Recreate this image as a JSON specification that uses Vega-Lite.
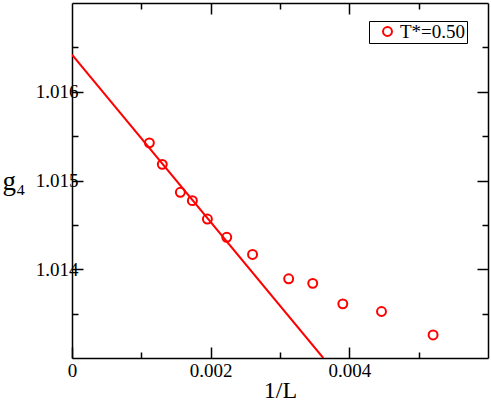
{
  "$schema": "https://vega.github.io/schema/vega-lite/v6.json",
  "width": 416,
  "height": 355,
  "autosize": {"type": "none"},
  "padding": {"left": 72, "top": 3, "right": 3, "bottom": 44},
  "config": {
    "view": {"stroke": null},
    "font": "Liberation Serif",
    "axis": {
      "domainColor": "black",
      "domainWidth": 1.5,
      "tickColor": "black",
      "tickWidth": 1.5,
      "grid": false,
      "labelFlush": false,
      "labelFont": "Liberation Serif",
      "labelColor": "black",
      "titleFont": "Liberation Serif",
      "titleFontWeight": "normal",
      "titleColor": "black"
    }
  },
  "datasets": {
    "points": [
      {"invL": 0.001116, "g4": 1.015424, "series": "T*=0.50"},
      {"invL": 0.001302, "g4": 1.015182, "series": "T*=0.50"},
      {"invL": 0.0015625, "g4": 1.014867, "series": "T*=0.50"},
      {"invL": 0.001736, "g4": 1.014773, "series": "T*=0.50"},
      {"invL": 0.001953, "g4": 1.014566, "series": "T*=0.50"},
      {"invL": 0.002232, "g4": 1.014360, "series": "T*=0.50"},
      {"invL": 0.002604, "g4": 1.014167, "series": "T*=0.50"},
      {"invL": 0.003125, "g4": 1.013892, "series": "T*=0.50"},
      {"invL": 0.003472, "g4": 1.013841, "series": "T*=0.50"},
      {"invL": 0.003906, "g4": 1.013610, "series": "T*=0.50"},
      {"invL": 0.004464, "g4": 1.013524, "series": "T*=0.50"},
      {"invL": 0.005208, "g4": 1.013260, "series": "T*=0.50"}
    ],
    "fit": [
      {"invL": 0.0, "g4": 1.016417},
      {"invL": 0.003624, "g4": 1.013}
    ]
  },
  "layer": [
    {
      "data": {"name": "fit"},
      "mark": {"type": "line", "color": "#ff0000", "strokeWidth": 2, "clip": true},
      "encoding": {
        "x": {
          "field": "invL", "type": "quantitative",
          "scale": {"domain": [0, 0.006], "nice": false, "zero": false},
          "axis": {
            "orient": "bottom",
            "title": "1/L",
            "titlePadding": -2,
            "titleFontSize": 24,
            "labelFontSize": 19,
            "values": [0, 0.001, 0.002, 0.003, 0.004, 0.005],
            "tickSize": {"condition": {"test": "abs(datum.value*500 - round(datum.value*500)) < 0.01", "value": -11}, "value": -6},
            "labelPadding": 14,
            "labelExpr": "abs(datum.value*500 - round(datum.value*500)) < 0.01 ? format(datum.value, '.3~f') : ''"
          }
        },
        "y": {
          "field": "g4", "type": "quantitative",
          "scale": {"domain": [1.013, 1.017], "nice": false, "zero": false},
          "axis": {
            "orient": "left",
            "title": "g₄",
            "titleFontSize": 27,
            "labelFontSize": 19,
            "titleAngle": 0,
            "titleAlign": "left",
            "titleBaseline": "middle",
            "titleX": -70,
            "titleY": 178,
            "values": [1.0135, 1.014, 1.0145, 1.015, 1.0155, 1.016, 1.0165],
            "tickSize": {"condition": {"test": "abs(datum.value*1000 - round(datum.value*1000)) < 0.01", "value": -11}, "value": -6},
            "labelPadding": 5,
            "labelExpr": "abs(datum.value*1000 - round(datum.value*1000)) < 0.01 ? format(datum.value, '.3f') : ''"
          }
        }
      }
    },
    {
      "data": {"name": "points"},
      "mark": {"type": "point", "shape": "circle", "filled": false, "size": 80, "strokeWidth": 2, "opacity": 1},
      "encoding": {
        "x": {
          "field": "invL", "type": "quantitative",
          "axis": {
            "orient": "top",
            "title": null,
            "labels": false,
            "values": [0.001, 0.002, 0.003, 0.004, 0.005],
            "tickSize": {"condition": {"test": "abs(datum.value*500 - round(datum.value*500)) < 0.01", "value": -11}, "value": -6}
          }
        },
        "y": {
          "field": "g4", "type": "quantitative",
          "axis": {
            "orient": "right",
            "title": null,
            "labels": false,
            "values": [1.0135, 1.014, 1.0145, 1.015, 1.0155, 1.016, 1.0165],
            "tickSize": {"condition": {"test": "abs(datum.value*1000 - round(datum.value*1000)) < 0.01", "value": -11}, "value": -6}
          }
        },
        "color": {
          "field": "series", "type": "nominal",
          "scale": {"range": ["#ff0000"]},
          "legend": {
            "title": null,
            "orient": "none",
            "legendX": 297,
            "legendY": 18,
            "strokeColor": "black",
            "fillColor": "white",
            "padding": 1,
            "symbolOffset": 8,
            "labelOffset": 3,
            "labelFont": "Liberation Serif",
            "labelFontSize": 19,
            "labelColor": "black",
            "symbolType": "circle",
            "symbolSize": 80,
            "symbolStrokeWidth": 2,
            "symbolOpacity": 1
          }
        }
      }
    }
  ],
  "resolve": {"axis": {"x": "independent", "y": "independent"}}
}
